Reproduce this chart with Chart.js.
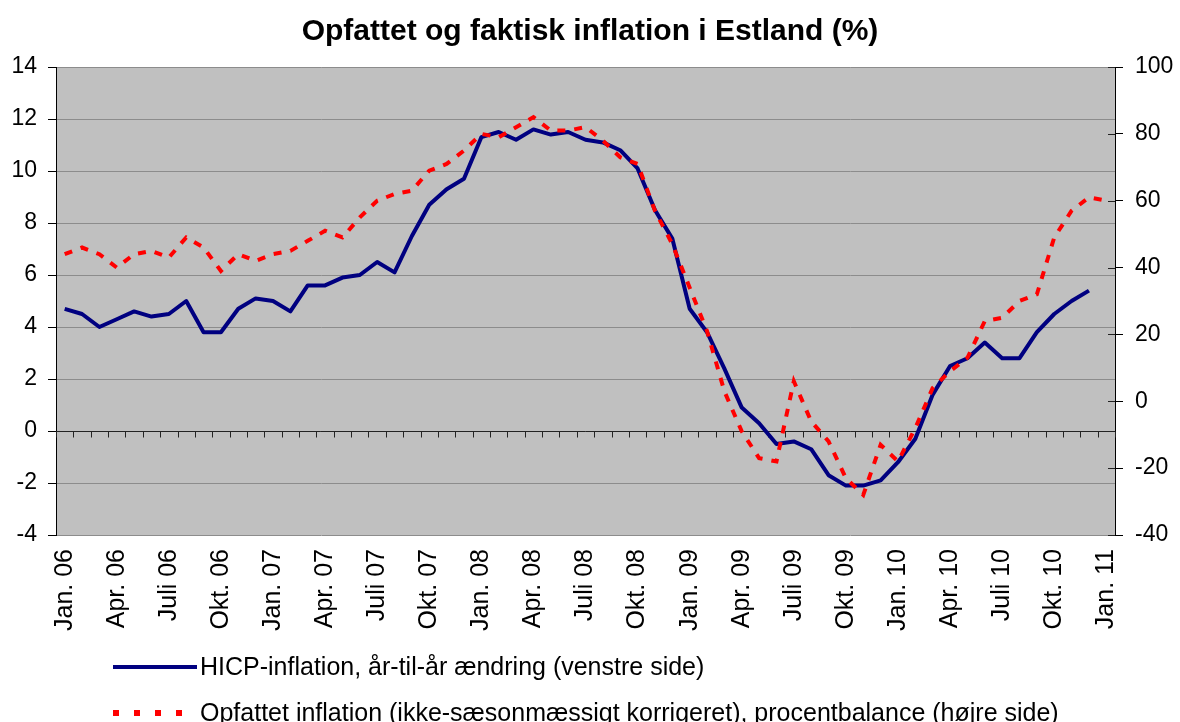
<!DOCTYPE html>
<html>
<head>
<meta charset="utf-8">
<script src="https://cdn.jsdelivr.net/npm/chart.js@4.4.1/dist/chart.umd.min.js"></script>
<style>
  body { margin: 0; background: #fff; }
  #wrap { position: relative; width: 1180px; height: 722px; font-family: "Liberation Sans", Arial, sans-serif; }
  .leg { position: absolute; left: 113px; height: 28px; line-height: 28px; font-size: 25px; color: #000; white-space: nowrap; }
  .leg .sample { display: inline-block; width: 84px; height: 4px; vertical-align: middle; margin-right: 3px; position: relative; top: -1px; }
  .solid { background: #000080; }
  .dots { height: 6px !important; background: repeating-linear-gradient(90deg, #ff0000 0 6px, transparent 6px 21px); }
</style>
</head>
<body>
<div id="wrap">
  <canvas id="myChart" width="1180" height="722"></canvas>
  <div class="leg" style="top:652px"><span class="sample solid"></span>HICP-inflation, år-til-år ændring (venstre side)</div>
  <div class="leg" style="top:698px"><span class="sample dots"></span>Opfattet inflation (ikke-sæsonmæssigt korrigeret), procentbalance (højre side)</div>
</div>
<script>
const monthNames = ['Jan.', 'Feb.', 'Mar.', 'Apr.', 'Maj', 'Juni', 'Juli', 'Aug.', 'Sep.', 'Okt.', 'Nov.', 'Dec.'];
const years = ['06', '07', '08', '09', '10'];

// Jan. 06 .. Jan. 11
let months = [];
years.forEach(y => monthNames.forEach(m => months.push(m + ' ' + y)));
months.push('Jan. 11');

// HICP, venstre akse (%)
const hicp = [
  4.7, 4.5, 4.0, 4.3, 4.6, 4.4, 4.5, 5.0, 3.8, 3.8, 4.7, 5.1,
  5.0, 4.6, 5.6, 5.6, 5.9, 6.0, 6.5, 6.1, 7.5, 8.7, 9.3, 9.7,
  11.3, 11.5, 11.2, 11.6, 11.4, 11.5, 11.2, 11.1, 10.8, 10.1, 8.5, 7.4,
  4.7, 3.8, 2.4, 0.9, 0.3, -0.5, -0.4, -0.7, -1.7, -2.1, -2.1, -1.9,
  -1.2, -0.3, 1.4, 2.5, 2.8, 3.4, 2.8, 2.8, 3.8, 4.5, 5.0, 5.4,
  null
];

// Opfattet inflation, hoejre akse (procentbalance)
const perceived = [
  44, 46, 44, 40, 44, 45, 43, 49, 46, 39, 44, 42,
  44, 45, 48, 51, 49, 55, 60, 62, 63, 69, 71, 75,
  80, 79, 82, 85, 81, 81, 82, 78, 73, 71, 57, 47,
  34, 21, 3, -9, -17, -18, 6, -6, -12, -23, -28, -13,
  -18, -8, 4, 9, 13, 24, 25, 30, 32, 49, 57, 61,
  60
];

const leftTicks = { min: -4, max: 14, step: 2 };
const rightTicks = { min: -40, max: 100, step: 20 };

const fontFamily = '"Liberation Sans", Arial, sans-serif';

const plotFrame = {
  id: 'plotFrame',
  beforeDraw(chart) {
    const a = chart.chartArea, c = chart.ctx;
    c.save();
    c.fillStyle = '#c0c0c0';
    c.fillRect(a.left, a.top, a.right - a.left, a.bottom - a.top);
    c.restore();
  },
  beforeDatasetsDraw(chart) {
    const a = chart.chartArea, c = chart.ctx;
    const x = chart.scales.x, y = chart.scales.y, y1 = chart.scales.y1;
    const y0 = Math.round(y.getPixelForValue(0)) + 0.5;
    c.save();
    c.strokeStyle = '#222';
    c.lineWidth = 1;
    c.beginPath();
    c.moveTo(a.left, y0);
    c.lineTo(a.right, y0);
    // tick marks between the categories
    const half = (x.getPixelForValue(1) - x.getPixelForValue(0)) / 2;
    for (let i = 0; i <= months.length; i++) {
      const px = Math.round(x.getPixelForValue(i) - half) + 0.5;
      c.moveTo(px, y0);
      c.lineTo(px, y0 + 6);
    }
    // inner half of the right axis ticks
    y1.ticks.forEach(t => {
      const py = Math.round(y1.getPixelForValue(t.value)) + 0.5;
      c.moveTo(a.right - 7, py);
      c.lineTo(a.right, py);
    });
    c.stroke();
    c.restore();
  }
};

const ctx = document.getElementById('myChart').getContext('2d');
const myChart = new Chart(ctx, {
  type: 'line',
  data: {
    labels: months,
    datasets: [{
      label: 'HICP-inflation, år-til-år ændring (venstre side)',
      data: hicp,
      yAxisID: 'y',
      borderColor: '#000080',
      borderWidth: 4,
      borderJoinStyle: 'round',
      pointRadius: 0,
      tension: 0,
      order: 1
    }, {
      label: 'Opfattet inflation (ikke-sæsonmæssigt korrigeret), procentbalance (højre side)',
      data: perceived,
      yAxisID: 'y1',
      borderColor: '#ff0000',
      borderWidth: 4,
      borderDash: [8, 9],
      borderCapStyle: 'butt',
      pointRadius: 0,
      tension: 0,
      order: 0
    }]
  },
  options: {
    responsive: false,
    animation: false,
    layout: { padding: { left: 0, right: 0, bottom: 87 } },
    plugins: {
      legend: { display: false },
      tooltip: { enabled: false },
      title: {
        display: true,
        text: 'Opfattet og faktisk inflation i Estland (%)',
        color: '#000',
        font: { family: fontFamily, size: 30, weight: 'bold' },
        padding: { top: 14, bottom: 17 }
      }
    },
    scales: {
      x: {
        offset: true,
        grid: { display: false, drawTicks: false },
        border: { display: false },
        afterFit: s => { s.height = 100; },
        ticks: {
          autoSkip: false,
          minRotation: 90,
          maxRotation: 90,
          padding: 14,
          color: '#000',
          font: { family: fontFamily, size: 25 },
          callback: (v, i) => i % 3 === 0 ? months[i] : ''
        }
      },
      y: {
        position: 'left',
        min: leftTicks.min,
        max: leftTicks.max,
        afterFit: s => { s.width = 56; },
        ticks: {
          stepSize: leftTicks.step,
          padding: 11,
          color: '#000',
          font: { family: fontFamily, size: 23 }
        },
        grid: { color: '#8c8c8c', tickColor: '#000', tickLength: 8 },
        border: { color: '#000', width: 1 }
      },
      y1: {
        position: 'right',
        min: rightTicks.min,
        max: rightTicks.max,
        afterFit: s => { s.width = 65; },
        ticks: {
          stepSize: rightTicks.step,
          padding: 12,
          color: '#000',
          font: { family: fontFamily, size: 23 }
        },
        grid: { drawOnChartArea: false, tickColor: '#000', tickLength: 8 },
        border: { color: '#000', width: 1 }
      }
    }
  },
  plugins: [plotFrame]
});
</script>
</body>
</html>
